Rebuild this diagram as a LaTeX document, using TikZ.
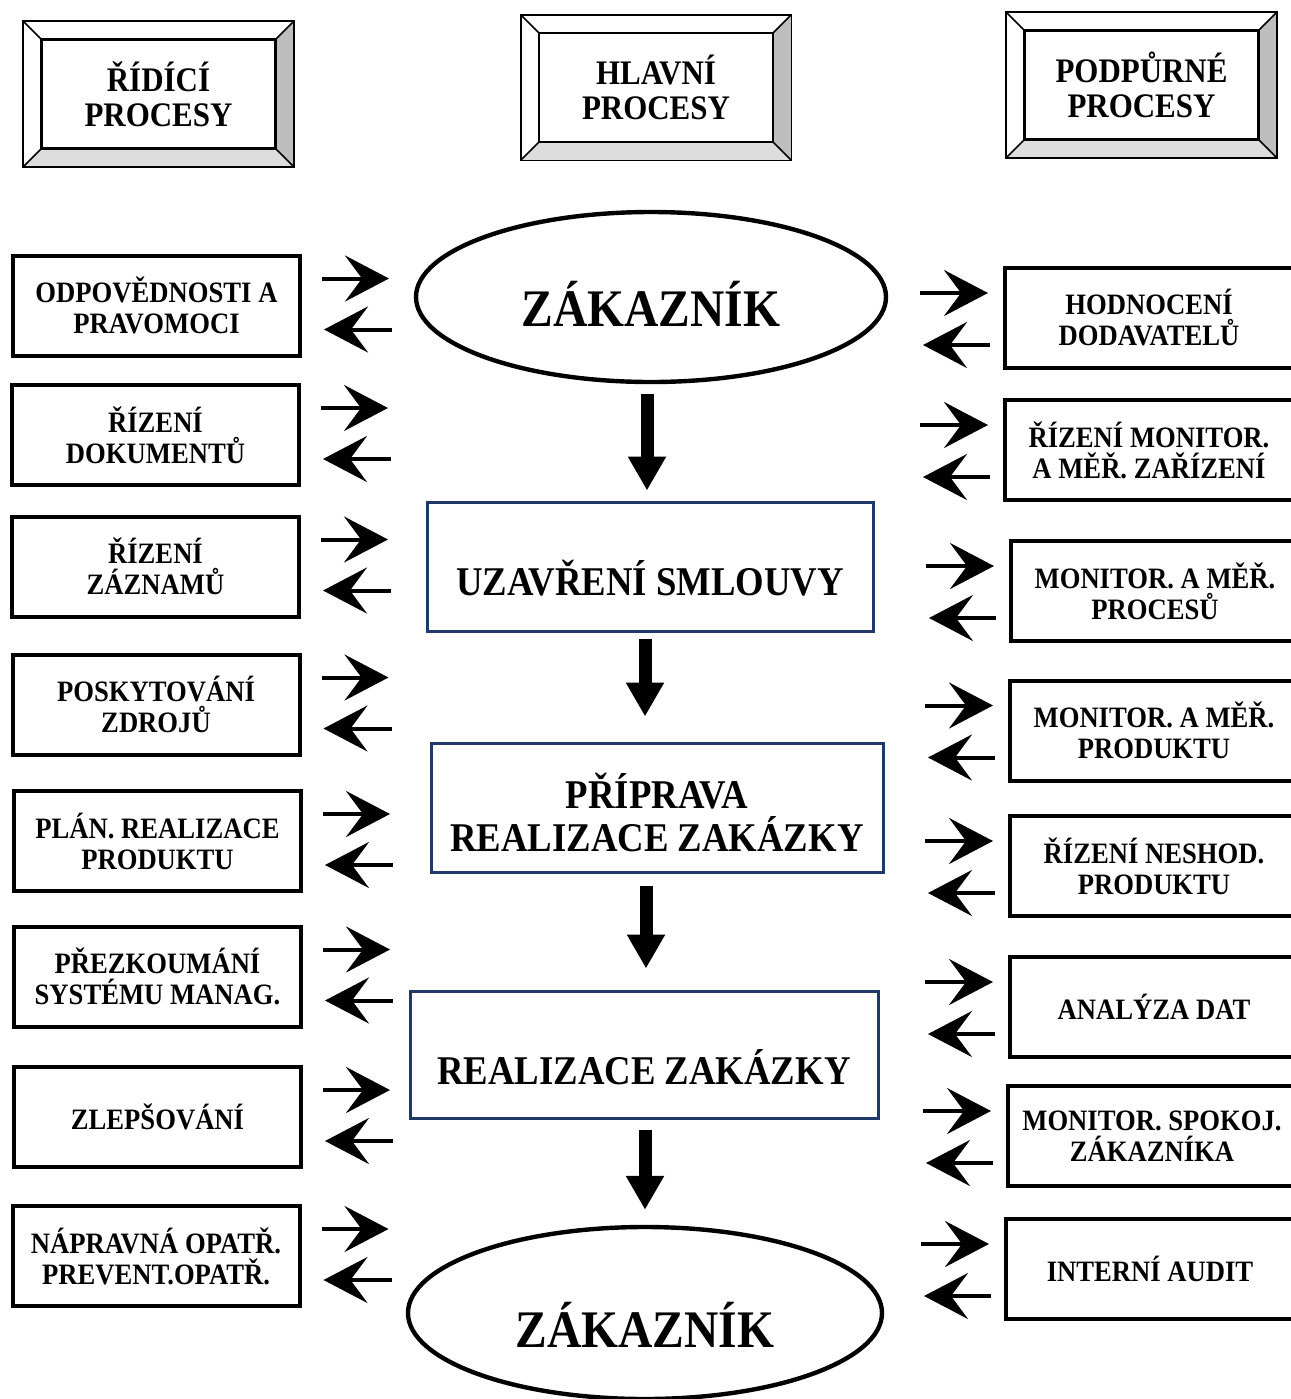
\documentclass[tikz,border=0pt]{standalone}
\usepackage{fontspec}
\setmainfont{Liberation Serif}[FakeStretch=0.9]
\usepackage{tikz}
\usetikzlibrary{arrows.meta,shapes.geometric}
\definecolor{PRBlue}{HTML}{1F3A68}
\definecolor{PRGrey}{HTML}{BEBEBE}
\definecolor{PRLight}{HTML}{DDDDDD}

\tikzset{
  headbox/.style={draw,fill=white,line width=.8pt,minimum width=116.5pt,minimum height=54pt,
    align=center,inner sep=0pt,font=\fontsize{17.2}{17.5}\selectfont\bfseries},
  sidebox/.style={draw,line width=2pt,minimum width=143.5pt,minimum height=50pt,
    align=center,inner sep=0pt,font=\fontsize{14.8}{15.5}\selectfont\bfseries},
  procbox/.style={draw=PRBlue,line width=1.5pt,align=center,inner sep=0pt,
    font=\fontsize{20.4}{21.5}\selectfont\bfseries},
  custnode/.style={ellipse,draw,line width=2.2pt,inner sep=0pt,text depth=0pt,
    font=\fontsize{26.4}{28}\selectfont\bfseries},
  downarr/.style={line width=6.5pt,-{Triangle[length=17pt,width=18pt]}},
  sidearr/.style={line width=2pt,-{Stealth[length=22pt,width=23pt,inset=8.5pt]}}
}

% bevelled frame round a header node
\newcommand{\bevelframe}[1]{%
  \fill[PRGrey] ([shift={(18,-18)}]#1.north east) -- ([shift={(18,18)}]#1.south east)
    -- (#1.south east) -- (#1.north east) -- cycle;
  \fill[PRLight] ([shift={(-18,18)}]#1.south west) -- ([shift={(18,18)}]#1.south east)
    -- (#1.south east) -- (#1.south west) -- cycle;
  \draw[line width=.8pt] ([shift={(-18,-18)}]#1.north west) rectangle ([shift={(18,18)}]#1.south east);
  \draw[line width=.8pt] ([shift={(-18,-18)}]#1.north west) -- (#1.north west)
    ([shift={(18,-18)}]#1.north east) -- (#1.north east)
    ([shift={(-18,18)}]#1.south west) -- (#1.south west)
    ([shift={(18,18)}]#1.south east) -- (#1.south east);
  \draw[line width=.8pt] (#1.north west) rectangle (#1.south east);
}

\begin{document}
\begin{tikzpicture}[x=0.5pt,y=-0.5pt]
\useasboundingbox (0,0) rectangle (1291,1399);
\clip (0,0) rectangle (1291,1399);

% headers
\node[headbox] (ridici) at (158.5,94) {ŘÍDÍCÍ\\PROCESY};
\bevelframe{ridici}
\node[headbox] (hlavni) at (656,87.5) {HLAVNÍ\\PROCESY};
\bevelframe{hlavni}
\node[headbox] (podpurne) at (1141.5,85) {PODPŮRNÉ\\PROCESY};
\bevelframe{podpurne}

% main process
\node[custnode,minimum width=235pt,minimum height=85pt,text height=29.5pt] (zak1) at (651,297) {ZÁKAZNÍK};
\node[procbox,minimum width=223pt,minimum height=64.5pt,text height=28.5pt,text depth=0pt] (uzavreni) at (650,566.5) {UZAVŘENÍ SMLOUVY};
\node[procbox,minimum width=226pt,minimum height=64.5pt,text height=44pt,text depth=0pt] (priprava) at (657,807.5) {PŘÍPRAVA\\REALIZACE ZAKÁZKY};
\node[procbox,minimum width=234pt,minimum height=63.5pt,text height=30pt,text depth=0pt] (realizace) at (644,1054.5) {REALIZACE ZAKÁZKY};
\node[custnode,minimum width=237pt,minimum height=86pt,text height=34pt] (zak2) at (645,1313) {ZÁKAZNÍK};

\draw[downarr] ([shift={(-4,10)}]zak1.south) -- ([shift={(-3,-10)}]uzavreni.north);
\draw[downarr] ([shift={(-5,6)}]uzavreni.south) -- ([shift={(-12,-25)}]priprava.north);
\draw[downarr] ([shift={(-11,12)}]priprava.south) -- ([shift={(2,-21)}]realizace.north);
\draw[downarr] ([shift={(1,10)}]realizace.south) -- ([shift={(0,-15)}]zak2.north);

% left column
\node[sidebox] (odpoved) at (156.5,305.5) {ODPOVĚDNOSTI A\\PRAVOMOCI};
\node[sidebox] (dokum) at (155.5,435) {ŘÍZENÍ\\DOKUMENTŮ};
\node[sidebox] (zaznamy) at (155.5,566.5) {ŘÍZENÍ\\ZÁZNAMŮ};
\node[sidebox] (zdroje) at (156,704.5) {POSKYTOVÁNÍ\\ZDROJŮ};
\node[sidebox] (planreal) at (157.5,841) {PLÁN. REALIZACE\\PRODUKTU};
\node[sidebox] (prezkoum) at (157.5,976.5) {PŘEZKOUMÁNÍ\\SYSTÉMU MANAG.};
\node[sidebox] (zlepsov) at (157.5,1117) {ZLEPŠOVÁNÍ};
\node[sidebox] (naprav) at (156,1256) {NÁPRAVNÁ OPATŘ.\\PREVENT.OPATŘ.};

\draw[sidearr] ([shift={(20,-27)}]odpoved.east) -- ++(67,0);
\draw[sidearr] ([shift={(90,24)}]odpoved.east) -- ++(-68,0);
\draw[sidearr] ([shift={(20,-27)}]dokum.east) -- ++(67,0);
\draw[sidearr] ([shift={(90,24)}]dokum.east) -- ++(-68,0);
\draw[sidearr] ([shift={(20,-27)}]zaznamy.east) -- ++(67,0);
\draw[sidearr] ([shift={(90,24)}]zaznamy.east) -- ++(-68,0);
\draw[sidearr] ([shift={(20,-27)}]zdroje.east) -- ++(67,0);
\draw[sidearr] ([shift={(90,24)}]zdroje.east) -- ++(-68,0);
\draw[sidearr] ([shift={(20,-27)}]planreal.east) -- ++(67,0);
\draw[sidearr] ([shift={(90,24)}]planreal.east) -- ++(-68,0);
\draw[sidearr] ([shift={(20,-27)}]prezkoum.east) -- ++(67,0);
\draw[sidearr] ([shift={(90,24)}]prezkoum.east) -- ++(-68,0);
\draw[sidearr] ([shift={(20,-27)}]zlepsov.east) -- ++(67,0);
\draw[sidearr] ([shift={(90,24)}]zlepsov.east) -- ++(-68,0);
\draw[sidearr] ([shift={(20,-27)}]naprav.east) -- ++(67,0);
\draw[sidearr] ([shift={(90,24)}]naprav.east) -- ++(-68,0);

% right column
\node[sidebox,minimum width=144pt] (hodnoc) at (1149,318) {HODNOCENÍ\\DODAVATELŮ};
\node[sidebox,minimum width=144pt] (merzar) at (1149,450) {ŘÍZENÍ MONITOR.\\A MĚŘ. ZAŘÍZENÍ};
\node[sidebox,minimum width=144pt] (procesy) at (1155,591) {MONITOR. A MĚŘ.\\PROCESŮ};
\node[sidebox,minimum width=144pt] (produkt) at (1154,730.5) {MONITOR. A MĚŘ.\\PRODUKTU};
\node[sidebox,minimum width=144pt] (neshody) at (1154,866) {ŘÍZENÍ NESHOD.\\PRODUKTU};
\node[sidebox,minimum width=144pt] (analyza) at (1154,1007) {ANALÝZA DAT};
\node[sidebox,minimum width=144pt] (spokoj) at (1152,1136) {MONITOR. SPOKOJ.\\ZÁKAZNÍKA};
\node[sidebox,minimum width=144pt] (audit) at (1150,1269) {INTERNÍ AUDIT};

\draw[sidearr] ([shift={(-83,-25)}]hodnoc.west) -- ++(68,0);
\draw[sidearr] ([shift={(-13,27)}]hodnoc.west) -- ++(-67,0);
\draw[sidearr] ([shift={(-83,-25)}]merzar.west) -- ++(68,0);
\draw[sidearr] ([shift={(-13,27)}]merzar.west) -- ++(-67,0);
\draw[sidearr] ([shift={(-83,-25)}]procesy.west) -- ++(68,0);
\draw[sidearr] ([shift={(-13,27)}]procesy.west) -- ++(-67,0);
\draw[sidearr] ([shift={(-83,-25)}]produkt.west) -- ++(68,0);
\draw[sidearr] ([shift={(-13,27)}]produkt.west) -- ++(-67,0);
\draw[sidearr] ([shift={(-83,-25)}]neshody.west) -- ++(68,0);
\draw[sidearr] ([shift={(-13,27)}]neshody.west) -- ++(-67,0);
\draw[sidearr] ([shift={(-83,-25)}]analyza.west) -- ++(68,0);
\draw[sidearr] ([shift={(-13,27)}]analyza.west) -- ++(-67,0);
\draw[sidearr] ([shift={(-83,-25)}]spokoj.west) -- ++(68,0);
\draw[sidearr] ([shift={(-13,27)}]spokoj.west) -- ++(-67,0);
\draw[sidearr] ([shift={(-83,-25)}]audit.west) -- ++(68,0);
\draw[sidearr] ([shift={(-13,27)}]audit.west) -- ++(-67,0);
\end{tikzpicture}
\end{document}
